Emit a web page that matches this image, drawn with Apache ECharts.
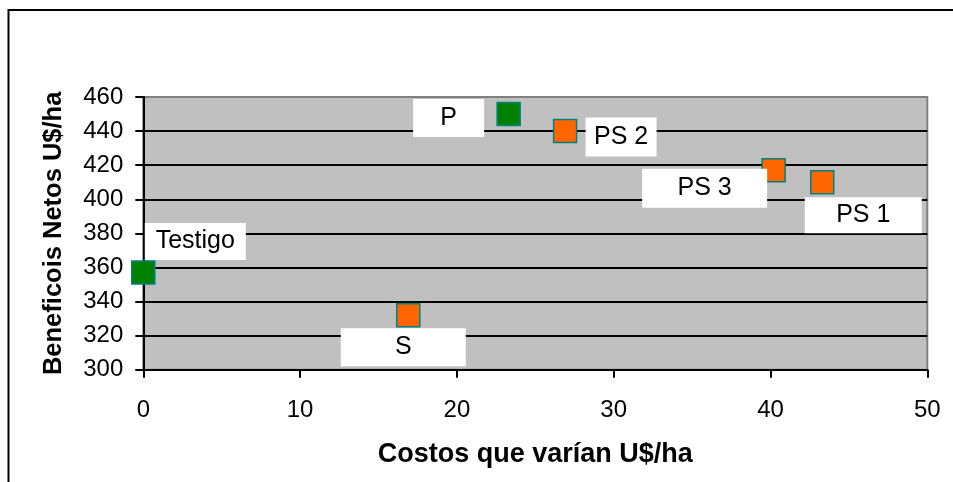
<!DOCTYPE html>
<html>
<head>
<meta charset="utf-8">
<script src="https://cdn.jsdelivr.net/npm/echarts@6/dist/echarts.min.js"></script>
<style>
html,body{margin:0;padding:0;background:#fff;}
#c{width:953px;height:482px;}
</style>
</head>
<body>
<div id="c"></div>
<script>
// ---- data ----
const names    = ['Testigo', 'P', 'S', 'PS 2', 'PS 3', 'PS 1'];
const costs    = [0, 23.3, 16.9, 26.9, 40.2, 43.3];      // Costos que varían U$/ha
const benefits = [357, 450, 332, 440, 417, 410];         // Beneficios Netos U$/ha
const groups   = ['green', 'green', 'orange', 'orange', 'orange', 'orange'];
const xTicks   = [0, 10, 20, 30, 40, 50];
const yTicks   = [300, 320, 340, 360, 380, 400, 420, 440, 460];

// ---- styling (not data) ----
const FONT = '"Liberation Sans", Arial, sans-serif';
const groupColor = { green: '#008000', orange: '#FF6600' };
// label box: [offsetX, offsetY, width, height]
const labelBox = {
  'Testigo': [52, -31, 101, 37],
  'P':       [-60, 4, 71, 38],
  'S':       [-5, 32, 125, 38],
  'PS 2':    [56, 6, 71, 39],
  'PS 3':    [-69, 18, 125, 39],
  'PS 1':    [41, 33, 117, 36]
};

function buildSeries(g) {
  const data = [];
  names.forEach((n, i) => {
    if (groups[i] !== g) return;
    const b = labelBox[n];
    data.push({
      value: [costs[i], benefits[i]],
      name: n,
      label: {
        show: true,
        formatter: n,
        position: 'inside',
        offset: [b[0], b[1]],
        width: b[2],
        height: b[3],
        lineHeight: b[3],
        align: 'center',
        verticalAlign: 'middle',
        backgroundColor: '#ffffff',
        color: '#000',
        fontSize: 25,
        fontFamily: FONT,
        overflow: 'none'
      }
    });
  });
  return {
    type: 'scatter',
    symbol: 'rect',
    symbolSize: 23,
    clip: false,
    itemStyle: { color: groupColor[g], borderColor: '#008080', borderWidth: 1.5, opacity: 1 },
    data: data,
    z: 3
  };
}

const chart = echarts.init(document.getElementById('c'));
chart.setOption({
  animation: false,
  backgroundColor: '#ffffff',
  graphic: [{
    type: 'rect',
    shape: { x: 8.5, y: 10, width: 1000, height: 1000 },
    style: { fill: 'none', stroke: '#000', lineWidth: 2 },
    silent: true,
    z: -10
  }],
  grid: {
    left: 143.3, right: 25.7, top: 97, bottom: 112.3,
    show: true, backgroundColor: '#C0C0C0', borderColor: '#808080', borderWidth: 2
  },
  xAxis: {
    type: 'value', min: xTicks[0], max: xTicks[xTicks.length - 1], interval: xTicks[1] - xTicks[0],
    name: 'Costos que varían U$/ha', nameLocation: 'middle', nameGap: 71,
    nameTextStyle: { fontSize: 27, fontWeight: 'bold', color: '#000', fontFamily: FONT },
    axisLine: { show: true, onZero: false, lineStyle: { color: '#000', width: 2 } },
    axisTick: { show: true, inside: false, length: 8, lineStyle: { color: '#000', width: 2 } },
    axisLabel: { margin: 29, fontSize: 24, color: '#000', fontFamily: FONT },
    splitLine: { show: false }
  },
  yAxis: {
    type: 'value', min: yTicks[0], max: yTicks[yTicks.length - 1], interval: yTicks[1] - yTicks[0],
    name: 'Beneficois Netos U$/ha', nameLocation: 'middle', nameGap: 76, nameRotate: 90,
    nameTextStyle: { fontSize: 25.5, fontWeight: 'bold', color: '#000', fontFamily: FONT },
    axisLine: { show: true, onZero: false, lineStyle: { color: '#000', width: 2 } },
    axisTick: { show: true, inside: false, length: 8, lineStyle: { color: '#000', width: 2 } },
    axisLabel: { margin: 20, fontSize: 24, color: '#000', fontFamily: FONT },
    splitLine: { show: true, showMaxLine: false, lineStyle: { color: '#000', width: 2 } }
  },
  series: [buildSeries('green'), buildSeries('orange')]
});
</script>
</body>
</html>
